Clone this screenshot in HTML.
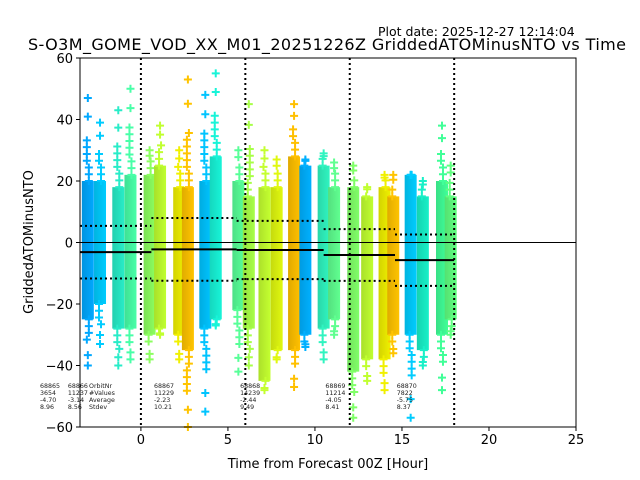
<!DOCTYPE html>
<html><head><meta charset="utf-8">
<style>
body{margin:0;background:#fff;}
svg{display:block;font-family:"DejaVu Sans","Liberation Sans",sans-serif;}
</style></head>
<body>
<svg id="chart" width="640" height="480" viewBox="0 0 640 480">
<rect width="640" height="480" fill="#fff"/>
<text x="378" y="36" font-size="12.5">Plot date: 2025-12-27 12:14:04</text>
<text x="327" y="50" font-size="16" text-anchor="middle" textLength="598">S-O3M_GOME_VOD_XX_M01_20251226Z GriddedATOMinusNTO vs Time</text>
<g id="plot"></g>
<text x="328" y="468" font-size="13" text-anchor="middle">Time from Forecast 00Z [Hour]</text>
<text x="33" y="242" font-size="13" text-anchor="middle" transform="rotate(-90 33 242)">GriddedATOMinusNTO</text>
</svg>
<script>
const stripX = [-3.05,-2.35,-1.3,-0.6,0.5,1.1,2.2,2.7,3.7,4.3,5.6,6.2,7.1,7.8,8.8,9.45,10.5,11.1,12.2,13.0,14.0,14.5,15.5,16.2,17.3,17.8];
const stripTop = [20,20,18,22,22,25,18,18,20,28,20,15,18,18,28,25,25,18,18,15,18,15,22,15,20,15];
const stripBot = [-25,-20,-28,-28,-30,-28,-30,-35,-28,-25,-22,-28,-45,-35,-35,-30,-28,-25,-42,-38,-38,-30,-30,-35,-30,-25];
const stripMax = [47,39,43,50,30,38,30,53,48,55,30,45,30,27,45,27,29,26,25,18,22,22,22,20,38,25];
const stripMin = [-40,-33,-40,-38,-38,-30,-38,-60,-55,-27,-42,-40,-48,-38,-47,-34,-38,-30,-57,-45,-48,-36,-57,-40,-48,-30];
const stripColor = ["#00a8ff","#00ccff","#28ecc8","#48ffa8","#8cff60","#c0ff30","#f0f000","#ffc400","#00c4ff","#18f4d8","#58ff98","#a8ff48","#c4ff30","#e0f810","#ffc000","#00b0ff","#30f4c0","#60ff90","#80ff68","#c0ff30","#f0f000","#ffc400","#00ccff","#18f0c8","#40ff98","#60ff80"];
const segStart = [-3.5,0.6,5.5,10.5,14.6];
const segEnd = [0.6,5.5,10.5,14.6,18.0];
const segAvg = [-3.14,-2.23,-2.44,-4.05,-5.75];
const segStd = [8.56,10.21,9.49,8.41,8.37];
const vLines = [0,6,12,18];
const xTicks = [0,5,10,15,20,25];
const yTicks = [-60,-40,-20,0,20,40,60];
const infoX = [-5.8,-4.2,0.75,5.7,10.6,14.7];
const infoRows = [["68865"," 3654","-4.70","8.96"],["68866","11237","-3.14","8.56"],["68867","11229","-2.23","10.21"],["68868","14239","-2.44","9.49"],["68869","11214","-4.05","8.41"],["68870"," 7822","-5.75","8.37"]];
const infoLabels = ["OrbitNr","#Values","Average","Stdev"];

const L=80,R=576,T=58,B=427;
const xs=v=>L+(v+3.5)/28.5*(R-L);
const ys=v=>T+(60-v)/120*(B-T);
const NS="http://www.w3.org/2000/svg";
const svg=document.getElementById('chart');
const plot=document.getElementById('plot');
function mk(t,a,p){const e=document.createElementNS(NS,t);for(const k in a)e.setAttribute(k,a[k]);(p||plot).appendChild(e);return e;}
const defs=mk('defs',{},svg);
function shade(hex,f){let n=parseInt(hex.slice(1),16);let r=n>>16,g=(n>>8)&255,b=n&255;
 r=Math.min(255,Math.round(r*f));g=Math.min(255,Math.round(g*f));b=Math.min(255,Math.round(b*f));
 return "rgb("+r+","+g+","+b+")";}
function cross(cx,cy,col){const c=mk('path',{d:`M${cx-4},${cy}h8M${cx},${cy-4}v8`,stroke:col,'stroke-width':2});
 
 }
stripX.forEach((x,i)=>{
  const g=mk('linearGradient',{id:'g'+i,x1:0,x2:1,y1:0,y2:0},defs);
  mk('stop',{offset:0,'stop-color':shade(stripColor[i],0.88)},g);
  mk('stop',{offset:1,'stop-color':stripColor[i]},g);
  const cx=xs(x),w=12;
  const r=mk('rect',{x:cx-w/2,y:ys(stripTop[i]),width:w,height:ys(stripBot[i])-ys(stripTop[i]),fill:'url(#g'+i+')'});
  
  
  const upEnd=stripTop[i]+(stripMax[i]-stripTop[i])*0.55;
  for(let v=stripTop[i];v<=upEnd;v+=2.2) cross(cx+((Math.round(v)%2)?-1:1),ys(v),stripColor[i]);
  const dnEnd=stripBot[i]+(stripMin[i]-stripBot[i])*0.55;
  for(let v=stripBot[i];v>=dnEnd;v-=2.2) cross(cx+((Math.round(v)%2)?1:-1),ys(v),stripColor[i]);
  cross(cx,ys(stripMax[i]),stripColor[i]);
  cross(cx,ys((stripMax[i]+upEnd)/2),stripColor[i]);
  cross(cx,ys(stripMin[i]),stripColor[i]);
  cross(cx,ys((stripMin[i]+dnEnd)/2),stripColor[i]);
});
mk('line',{x1:L,x2:R,y1:ys(0),y2:ys(0),stroke:'#000','stroke-width':1});
vLines.forEach(v=>{const l=mk('line',{x1:xs(v),x2:xs(v),y1:T,y2:B,stroke:'#000','stroke-width':2,'stroke-dasharray':'2,3'});
 });
segStart.forEach((s,i)=>{
  const m=mk('line',{x1:xs(s),x2:xs(segEnd[i]),y1:ys(segAvg[i]),y2:ys(segAvg[i]),stroke:'#000','stroke-width':2});
  
  [1,-1].forEach(sg=>{const d=mk('line',{x1:xs(s),x2:xs(segEnd[i]),y1:ys(segAvg[i]+sg*segStd[i]),y2:ys(segAvg[i]+sg*segStd[i]),stroke:'#000','stroke-width':2,'stroke-dasharray':'2,3'});
   });
});
infoX.forEach((x,i)=>{
  infoRows[i].forEach((t,j)=>{const e=mk('text',{x:xs(x),y:388+j*7,'font-size':6.3,fill:'#222','xml:space':'preserve'});e.textContent=t;
   });
});
infoLabels.forEach((t,j)=>{const e=mk('text',{x:89,y:388+j*7,'font-size':6.3,fill:'#222'});e.textContent=t;
 });
mk('rect',{x:L,y:T,width:R-L,height:B-T,fill:'none',stroke:'#000','stroke-width':1});
xTicks.forEach(v=>{mk('line',{x1:xs(v),x2:xs(v),y1:B,y2:B+4,stroke:'#000'});
 const t=mk('text',{x:xs(v),y:B+17,'font-size':13,'text-anchor':'middle'});t.textContent=v;
 });
yTicks.forEach(v=>{mk('line',{x1:L-4,x2:L,y1:ys(v),y2:ys(v),stroke:'#000'});
 const t=mk('text',{x:L-7,y:ys(v)+5,'font-size':13,'text-anchor':'end'});t.textContent=v<0?'\u2212'+(-v):v;
 });
</script>
</body></html>
